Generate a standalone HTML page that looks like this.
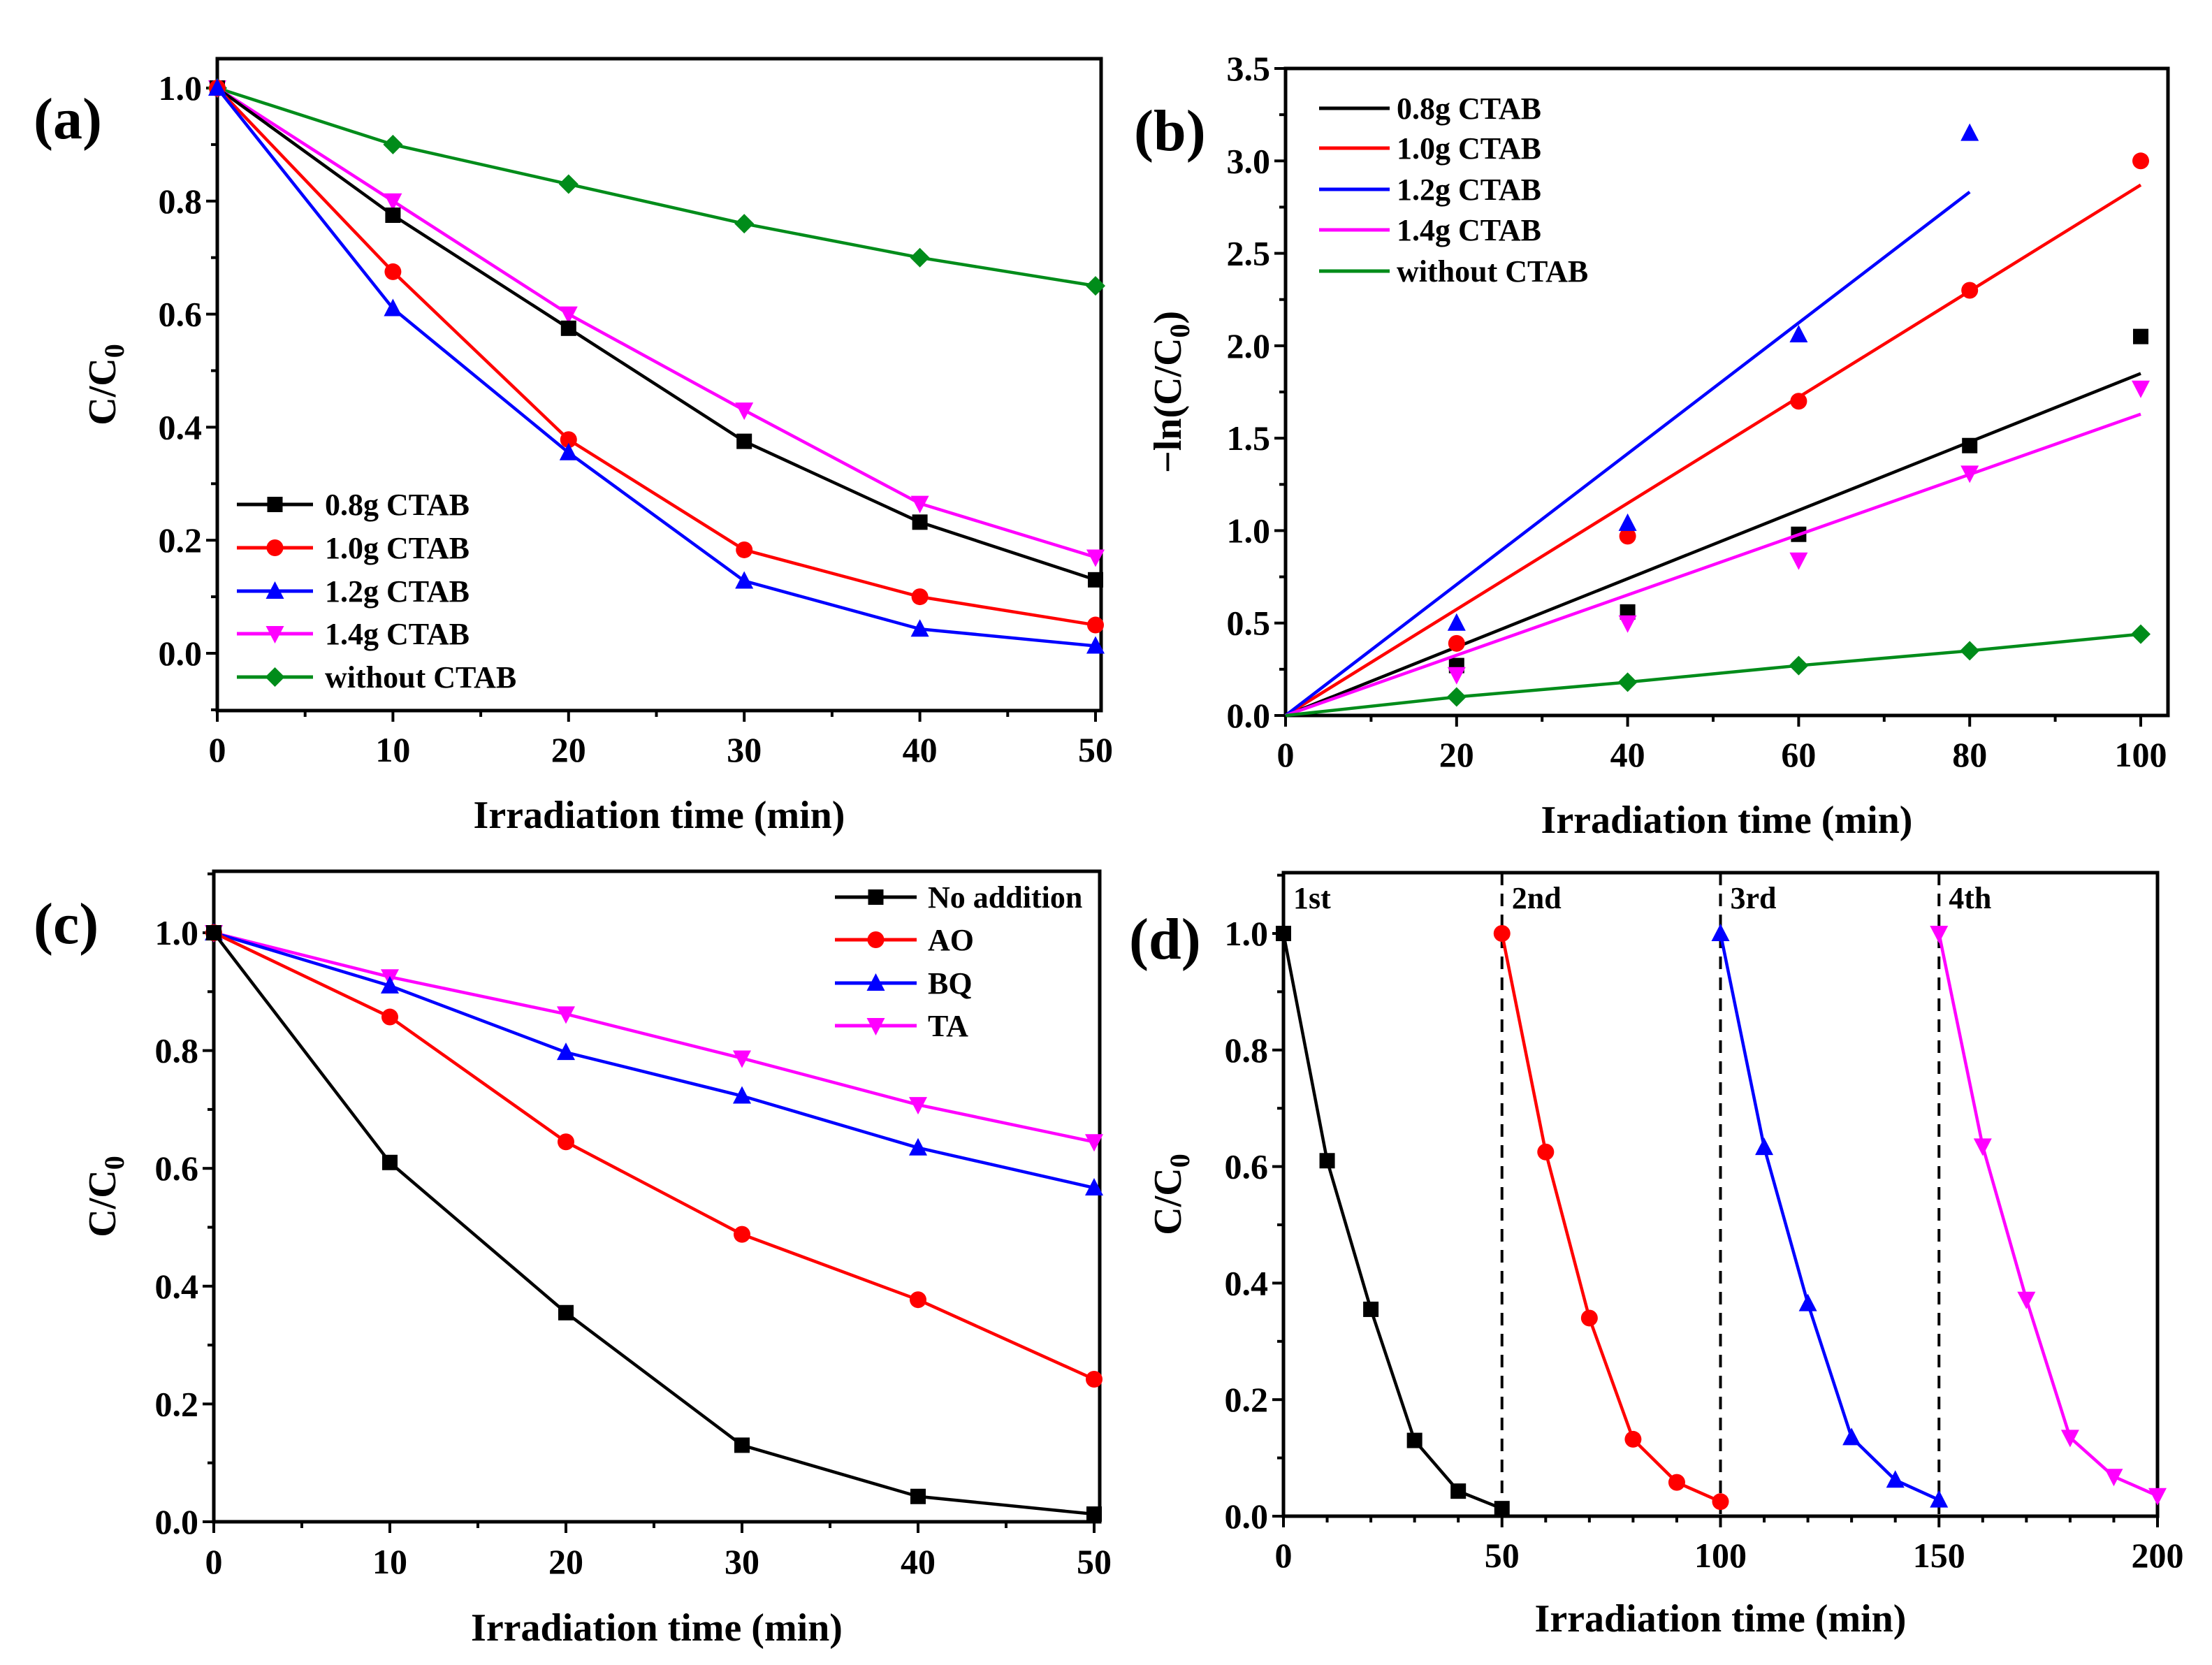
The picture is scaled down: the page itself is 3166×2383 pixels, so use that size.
<!DOCTYPE html>
<html><head><meta charset="utf-8"><style>
html,body{margin:0;padding:0;background:#fff;}
svg{display:block;font-family:"Liberation Serif","Times New Roman",serif;font-weight:bold;}
</style></head><body>
<svg id="fig" width="3166" height="2383" viewBox="0 0 3166 2383" xmlns="http://www.w3.org/2000/svg"></svg>
<script>
// ---- Data ----
const xA = [0,10,20,30,40,50];
const a08 = [1,0.775,0.575,0.375,0.232,0.13];
const a10 = [1,0.675,0.378,0.183,0.1,0.05];
const a12 = [1,0.61,0.355,0.128,0.043,0.013];
const a14 = [1,0.8,0.6,0.43,0.265,0.17];
const aNo = [1,0.9,0.83,0.76,0.7,0.65];
const aLabels = ["0.8g CTAB","1.0g CTAB","1.2g CTAB","1.4g CTAB","without CTAB"];

const xB = [20,40,60,80,100];
const b08 = [0.27,0.56,0.98,1.46,2.05];
const b10 = [0.39,0.97,1.70,2.30,3.0];
const b12 = [0.5,1.04,2.06,3.15];
const b14 = [0.22,0.5,0.84,1.31,1.77];
const xBg = [0,20,40,60,80,100];
const bNo = [0,0.1,0.18,0.27,0.35,0.44];
const bSlopes = [0.0185,0.0287,0.0354,0.0163];
const bFitEnd = [100,100,80,100];

const xC = [0,10,20,30,40,50];
const cNo = [1,0.61,0.355,0.13,0.043,0.013];
const cAO = [1,0.857,0.645,0.488,0.377,0.242];
const cBQ = [1,0.91,0.797,0.723,0.635,0.567];
const cTA = [1,0.925,0.862,0.787,0.708,0.645];
const cLabels = ["No addition","AO","BQ","TA"];

const xD1 = [0,10,20,30,40,50];
const d1 = [1,0.61,0.355,0.13,0.043,0.013];
const d2 = [1,0.625,0.34,0.132,0.058,0.025];
const d3 = [1,0.633,0.365,0.135,0.062,0.028];
const d4 = [1,0.635,0.372,0.135,0.068,0.035];
const dCycleStarts = [0,50,100,150];
const dCycleLabels = ["1st","2nd","3rd","4th"];

const COL = {k:"#000000",r:"#ff0000",b:"#0000ff",m:"#ff00ff",g:"#008c1a"};
const NS = "http://www.w3.org/2000/svg";
const svg = document.getElementById('fig');

function el(tag, attrs, parent){
  const e = document.createElementNS(NS, tag);
  for (const k in attrs) e.setAttribute(k, attrs[k]);
  (parent||svg).appendChild(e);
  return e;
}
function txt(s, x, y, size, anchor, parent){
  const t = el('text',{x:x,y:y,'font-size':size,'text-anchor':anchor||'middle',fill:'#000'},parent);
  t.textContent = s;
  return t;
}
function marker(g, type, cx, cy, color, s){
  s = s||11;
  let m;
  if(type==='sq') m = el('rect',{x:cx-s,y:cy-s,width:2*s,height:2*s,fill:color},g);
  else if(type==='ci') m = el('circle',{cx:cx,cy:cy,r:s+1,fill:color},g);
  else if(type==='up') m = el('polygon',{points:`${cx},${cy-s-3} ${cx-s-2},${cy+s} ${cx+s+2},${cy+s}`,fill:color},g);
  else if(type==='dn') m = el('polygon',{points:`${cx},${cy+s+3} ${cx-s-2},${cy-s} ${cx+s+2},${cy-s}`,fill:color},g);
  else if(type==='di') m = el('polygon',{points:`${cx},${cy-s-3} ${cx-s-3},${cy} ${cx},${cy+s+3} ${cx+s+3},${cy}`,fill:color},g);
  
  
  return m;
}

function makeAxes(cfg){
  const g = el('g',{});
  
  
  const X = v => cfg.x0 + (v - cfg.xmin)/(cfg.xmax - cfg.xmin)*(cfg.x1 - cfg.x0);
  const Y = v => cfg.y0 - (v - cfg.ymin)/(cfg.ymax - cfg.ymin)*(cfg.y0 - cfg.y1);
  const fr = el('rect',{x:cfg.fl,y:cfg.ft,width:cfg.fr-cfg.fl,height:cfg.fb-cfg.ft,fill:'none',stroke:'#000','stroke-width':5},g);
  
  
  const xt = el('g',{},g);
  
  
  for(const v of cfg.xticks){
    el('line',{x1:X(v),x2:X(v),y1:cfg.fb,y2:cfg.fb+16,stroke:'#000','stroke-width':4},xt);
    txt(String(v), X(v), cfg.xlabY, 50, 'middle', xt);
  }
  for(const v of cfg.xminor){
    el('line',{x1:X(v),x2:X(v),y1:cfg.fb,y2:cfg.fb+9,stroke:'#000','stroke-width':4},xt);
  }
  const yt = el('g',{},g);
  
  
  for(const v of cfg.yticks){
    el('line',{x1:cfg.fl,x2:cfg.fl-16,y1:Y(v),y2:Y(v),stroke:'#000','stroke-width':4},yt);
    txt(v.toFixed(1), cfg.fl-22, Y(v)+17, 50, 'end', yt);
  }
  for(const v of cfg.yminor){
    el('line',{x1:cfg.fl,x2:cfg.fl-9,y1:Y(v),y2:Y(v),stroke:'#000','stroke-width':4},yt);
  }
  const xtitle = txt('Irradiation time (min)', (cfg.fl+cfg.fr)/2, cfg.xtitleY, 56, 'middle', g);
  
  
  const yg = el('g',{transform:`translate(${cfg.ytitleX},${(cfg.ft+cfg.fb)/2}) rotate(-90)`},g);
  const yti = el('text',{x:0,y:0,'font-size':56,'text-anchor':'middle'},yg);
  yti.innerHTML = cfg.ytitle;
  
  
  const pl = txt(cfg.label, cfg.labX, cfg.labY, 84, 'start', g);
  
  
  return {g,X,Y};
}
function series(ax, xs, ys, color, mk, name, drawLine){
  const g = el('g',{},ax.g);
  
  
  if(drawLine!==false){
    const pts = xs.map((x,i)=>ax.X(x)+','+ax.Y(ys[i])).join(' ');
    el('polyline',{points:pts,fill:'none',stroke:color,'stroke-width':4.5,'stroke-linejoin':'round'},g);
  }
  xs.forEach((x,i)=>marker(g, mk, ax.X(x), ax.Y(ys[i]), color));
  return g;
}
function range(a,b,s){const r=[];for(let v=a;v<=b+1e-9;v+=s)r.push(Math.round(v*1000)/1000);return r;}
function legend(ax, items, lx0, lx1, tx, ys, withMarker){
  const g = el('g',{},ax.g);
  
  
  items.forEach((it,i)=>{
    const e = el('g',{},g);
    
    
    el('line',{x1:lx0,x2:lx1,y1:ys[i],y2:ys[i],stroke:it.c,'stroke-width':5},e);
    if(withMarker) marker(e, it.m, (lx0+lx1)/2, ys[i], it.c);
    txt(it.t, tx, ys[i]+15, 44, 'start', e);
  });
}

// ---- Panel (a) ----
const A = makeAxes({name:'panel-a',x0:311,x1:1568,xmin:0,xmax:50,y0:935,y1:126,ymin:0,ymax:1,
  fl:311,fr:1576,ft:84,fb:1017,xticks:range(0,50,10),xminor:range(5,45,10),
  yticks:range(0,1,0.2),yminor:range(-0.1,0.9,0.2),xlabY:1090,xtitleY:1185,ytitleX:165,
  ytitle:'C/C<tspan font-size="40" dy="12">0</tspan>',label:'(a)',labX:48,labY:198});
series(A,xA,aNo,COL.g,'di','series-without-ctab');
series(A,xA,a14,COL.m,'dn','series-1.4g-ctab');
series(A,xA,a08,COL.k,'sq','series-0.8g-ctab');
series(A,xA,a10,COL.r,'ci','series-1.0g-ctab');
series(A,xA,a12,COL.b,'up','series-1.2g-ctab');
legend(A,[{c:COL.k,m:'sq',t:aLabels[0]},{c:COL.r,m:'ci',t:aLabels[1]},{c:COL.b,m:'up',t:aLabels[2]},{c:COL.m,m:'dn',t:aLabels[3]},{c:COL.g,m:'di',t:aLabels[4]}],
  339,448,465,[722,784,846,907,969],true);

// ---- Panel (b) ----
const B = makeAxes({name:'panel-b',x0:1840,x1:3064,xmin:0,xmax:100,y0:1024,y1:98,ymin:0,ymax:3.5,
  fl:1840,fr:3103,ft:98,fb:1024,xticks:range(0,100,20),xminor:range(10,90,20),
  yticks:range(0,3.5,0.5),yminor:range(0.25,3.25,0.5),xlabY:1097,xtitleY:1192,ytitleX:1690,
  ytitle:'\u2212ln(C/C<tspan font-size="40" dy="12">0</tspan><tspan dy="-12">)</tspan>',label:'(b)',labX:1623,labY:215});
const bSets = [[b08,COL.k,'sq','series-0.8g-ctab'],[b10,COL.r,'ci','series-1.0g-ctab'],[b12,COL.b,'up','series-1.2g-ctab'],[b14,COL.m,'dn','series-1.4g-ctab']];
bSets.forEach((s,i)=>{
  const g = series(B, xB.slice(0,s[0].length), s[0], s[1], s[2], s[3], false);
  const f = el('line',{x1:B.X(0),y1:B.Y(0),x2:B.X(bFitEnd[i]),y2:B.Y(bSlopes[i]*bFitEnd[i]),stroke:s[1],'stroke-width':4.5},g);
  
  
});
series(B,xBg.slice(1),bNo.slice(1),COL.g,'di','series-without-ctab',false);
{
  const gl = el('polyline',{points:xBg.map((x,i)=>B.X(x)+','+B.Y(bNo[i])).join(' '),fill:'none',stroke:COL.g,'stroke-width':4.5},B.g);
  
  
}
legend(B,[{c:COL.k,t:aLabels[0]},{c:COL.r,t:aLabels[1]},{c:COL.b,t:aLabels[2]},{c:COL.m,t:aLabels[3]},{c:COL.g,t:aLabels[4]}],
  1888,1989,1999,[155,212,271,329,388],false);

// ---- Panel (c) ----
const C = makeAxes({name:'panel-c',x0:306,x1:1566,xmin:0,xmax:50,y0:2178,y1:1335,ymin:0,ymax:1,
  fl:306,fr:1574,ft:1247,fb:2178,xticks:range(0,50,10),xminor:range(5,45,10),
  yticks:range(0,1,0.2),yminor:range(0.1,1.1,0.2),xlabY:2252,xtitleY:2348,ytitleX:165,
  ytitle:'C/C<tspan font-size="40" dy="12">0</tspan>',label:'(c)',labX:48,labY:1350});
series(C,xC,cTA,COL.m,'dn','series-ta');
series(C,xC,cBQ,COL.b,'up','series-bq');
series(C,xC,cAO,COL.r,'ci','series-ao');
series(C,xC,cNo,COL.k,'sq','series-no-addition');
legend(C,[{c:COL.k,m:'sq',t:cLabels[0]},{c:COL.r,m:'ci',t:cLabels[1]},{c:COL.b,m:'up',t:cLabels[2]},{c:COL.m,m:'dn',t:cLabels[3]}],
  1195,1312,1328,[1284,1345,1407,1468],true);

// ---- Panel (d) ----
const D = makeAxes({name:'panel-d',x0:1837,x1:3088,xmin:0,xmax:200,y0:2170,y1:1336,ymin:0,ymax:1,
  fl:1837,fr:3088,ft:1249,fb:2170,xticks:range(0,200,50),xminor:range(10,190,10).filter(v=>v%50!==0),
  yticks:range(0,1,0.2),yminor:range(0.1,1.1,0.2),xlabY:2243,xtitleY:2335,ytitleX:1690,
  ytitle:'C/C<tspan font-size="40" dy="12">0</tspan>',label:'(d)',labX:1616,labY:1372});
[50,100,150].forEach(v=>{
  const l = el('line',{x1:D.X(v),x2:D.X(v),y1:1249,y2:2170,stroke:'#000','stroke-width':4,'stroke-dasharray':'18,12'},D.g);
  
  
});
const dSets=[[d1,COL.k,'sq'],[d2,COL.r,'ci'],[d3,COL.b,'up'],[d4,COL.m,'dn']];
dSets.forEach((s,i)=>{
  series(D, xD1.map(x=>x+dCycleStarts[i]), s[0], s[1], s[2], 'series-cycle-'+(i+1));
  const t = txt(dCycleLabels[i], D.X(dCycleStarts[i])+14, 1300, 44, 'start', D.g);
  
  
});
</script>
</body></html>
